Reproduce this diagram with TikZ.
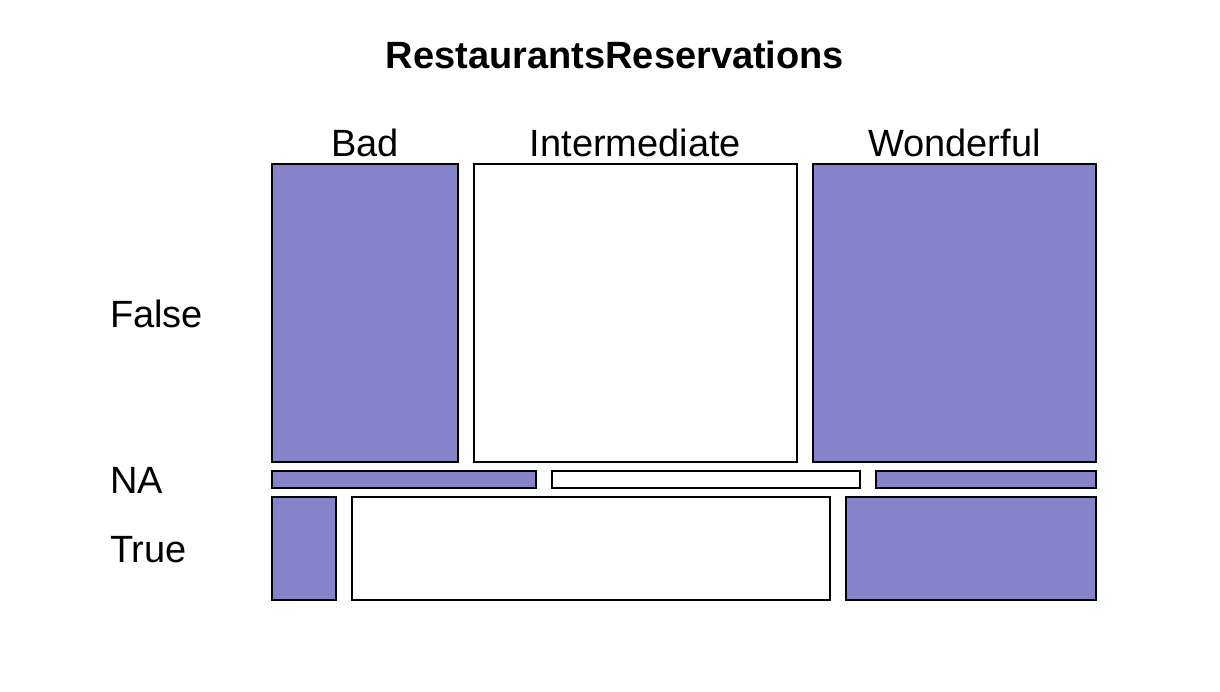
\documentclass[tikz,border=0pt]{standalone}
\usepackage{fontspec}
\setmainfont{Liberation Sans}
\usepackage{xcolor}
\usepackage{tikz}
\usetikzlibrary{positioning}
\definecolor{mosaicblue}{RGB}{135,131,203}

\begin{document}
\begin{tikzpicture}[x=1pt,y=-1pt,inner sep=0pt,outer sep=0pt,
		font=\fontsize{38}{44}\selectfont]
		\tikzstyle{cell}=[draw=black,line width=1.6pt,rectangle]
		\tikzstyle{blue cell}=[cell,fill=mosaicblue]
		\tikzstyle{white cell}=[cell,fill=white]
		\tikzstyle{collabel}=[anchor=base]
		\tikzstyle{rowlabel}=[anchor=base west]
		
		\useasboundingbox (0,0) rectangle (1220,692);
		
		\node[font=\fontsize{38}{44}\selectfont\bfseries,anchor=base] (title) at (615,69) {RestaurantsReservations};
		
		% False row
		\node[blue cell, minimum width=186pt, minimum height=298pt]  (fb) at (365,313)   {};
		\node[white cell, minimum width=323pt, minimum height=298pt] (fi) at (635.5,313) {};
		\node[blue cell, minimum width=283pt, minimum height=298pt]  (fw) at (954.5,313) {};
		
		% NA row
		\node[blue cell, minimum width=264pt, minimum height=17pt]  (nb) at (404,479.5) {};
		\node[white cell, minimum width=308pt, minimum height=17pt] (ni) at (706,479.5) {};
		\node[blue cell, minimum width=220pt, minimum height=17pt]  (nw) at (986,479.5) {};
		
		% True row
		\node[blue cell, minimum width=64pt, minimum height=103pt]   (tb) at (304,548.5) {};
		\node[white cell, minimum width=478pt, minimum height=103pt] (ti) at (591,548.5) {};
		\node[blue cell, minimum width=250pt, minimum height=103pt]  (tw) at (971,548.5) {};
		
		\node[collabel] (bad)   at (365,157)   {Bad};
		\node[collabel] (inter) at (635.5,157) {Intermediate};
		\node[collabel] (wond)  at (954.5,157) {Wonderful};
		
		\node[rowlabel] (false) at (110,327) {False};
		\node[rowlabel] (na)    at (110,493) {NA};
		\node[rowlabel] (true)  at (110,562) {True};
\end{tikzpicture}
\end{document}
